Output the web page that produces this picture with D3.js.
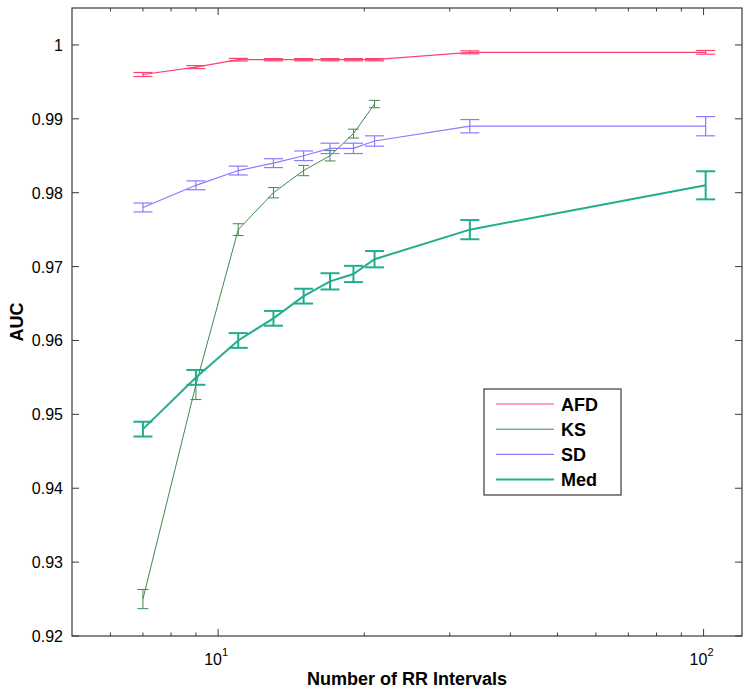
<!DOCTYPE html>
<meta charset="utf-8">
<script src="https://d3js.org/d3.v7.min.js"></script>
<style>
  body { margin: 0; background: #fff; }
  text { font-family: "Liberation Sans", Arial, Helvetica, sans-serif; }
</style>
<body>
<div id="auc_chart"></div>
<script>

// number of RR intervals (x positions)
var nRR = [7, 9, 11, 13, 15, 17, 19, 21, 33, 101];
var nRR_KS = [7, 9, 11, 13, 15, 17, 19, 21];

// AUC means and error half-widths
var afd = [0.996, 0.997, 0.998, 0.998, 0.998, 0.998, 0.998, 0.998, 0.999, 0.999];
var afdErr = [0.00027, 0.0002, 0.00018, 0.00015, 0.00015, 0.00015, 0.00015, 0.00015, 0.0002, 0.00025];

var ks = [0.925, 0.954, 0.975, 0.980, 0.983, 0.985, 0.988, 0.992];
var ksErr = [0.0013, 0.002, 0.0008, 0.0007, 0.0007, 0.0007, 0.0006, 0.0005];

var sd = [0.978, 0.981, 0.983, 0.984, 0.985, 0.986, 0.986, 0.987, 0.989, 0.989];
var sdErr = [0.0006, 0.0006, 0.0006, 0.0006, 0.00065, 0.0007, 0.0007, 0.0007, 0.0009, 0.0013];

var med = [0.948, 0.955, 0.960, 0.963, 0.966, 0.968, 0.969, 0.971, 0.975, 0.981];
var medErr = [0.001, 0.001, 0.001, 0.001, 0.001, 0.0011, 0.0011, 0.0011, 0.0013, 0.0019];

var yTicks = [0.92, 0.93, 0.94, 0.95, 0.96, 0.97, 0.98, 0.99, 1];
var xMajor = [10, 100];
var xMinor = [6, 7, 8, 9, 20, 30, 40, 50, 60, 70, 80, 90];

var series = [
  {name: "AFD", x: nRR, y: afd, e: afdErr, color: "#ff4270", w: 1.2, cap: 9.5},
  {name: "KS", x: nRR_KS, y: ks, e: ksErr, color: "#3f8a4f", w: 1, cap: 5.5},
  {name: "SD", x: nRR, y: sd, e: sdErr, color: "#8a7bff", w: 1.2, cap: 9.5},
  {name: "Med", x: nRR, y: med, e: medErr, color: "#22ad8e", w: 2, cap: 9.5}
];

var margin = {top: 8, right: 9, bottom: 57, left: 72},
    width = 751 - margin.left - margin.right,
    height = 693 - margin.top - margin.bottom;

var svg = d3.select("#auc_chart")
  .append("svg")
    .attr("width", 751)
    .attr("height", 693)
  .append("g")
    .attr("transform", "translate(" + margin.left + "," + margin.top + ")");

var x = d3.scaleLog()
  .domain([5, 120])
  .range([0, width]);

var y = d3.scaleLinear()
  .domain([0.92, 1.005])
  .range([height, 0]);

var axisColor = "#3a3a3a";

// box
svg.append("rect")
  .attr("width", width)
  .attr("height", height)
  .attr("fill", "none")
  .attr("stroke", axisColor)
  .attr("stroke-width", 1.2);

// y ticks, inward on both sides
yTicks.forEach(function(t) {
  var yy = y(t);
  svg.append("line").attr("x1", 0).attr("x2", 7).attr("y1", yy).attr("y2", yy)
    .attr("stroke", axisColor);
  svg.append("line").attr("x1", width).attr("x2", width - 7).attr("y1", yy).attr("y2", yy)
    .attr("stroke", axisColor);
  svg.append("text")
    .attr("x", -9)
    .attr("y", yy + 6)
    .attr("text-anchor", "end")
    .attr("font-size", "16px")
    .text(t === 1 ? "1" : d3.format(".2f")(t));
});

// x ticks: majors and minors on bottom and top
xMajor.forEach(function(t) {
  var xx = x(t);
  svg.append("line").attr("x1", xx).attr("x2", xx).attr("y1", height).attr("y2", height - 7)
    .attr("stroke", axisColor);
  svg.append("line").attr("x1", xx).attr("x2", xx).attr("y1", 0).attr("y2", 7)
    .attr("stroke", axisColor);
  var lab = svg.append("text")
    .attr("x", xx - 2)
    .attr("y", height + 29)
    .attr("text-anchor", "middle")
    .attr("font-size", "16px");
  lab.append("tspan").text("10");
  lab.append("tspan")
    .attr("dy", -9)
    .attr("font-size", "11px")
    .text(String(Math.round(Math.log10(t))));
});

xMinor.forEach(function(t) {
  var xx = x(t);
  svg.append("line").attr("x1", xx).attr("x2", xx).attr("y1", height).attr("y2", height - 3.5)
    .attr("stroke", axisColor);
  svg.append("line").attr("x1", xx).attr("x2", xx).attr("y1", 0).attr("y2", 3.5)
    .attr("stroke", axisColor);
});

// axis labels
svg.append("text")
  .attr("x", width / 2)
  .attr("y", height + 49)
  .attr("text-anchor", "middle")
  .attr("font-size", "18px")
  .attr("font-weight", "bold")
  .text("Number of RR Intervals");

svg.append("text")
  .attr("transform", "translate(" + (23 - margin.left) + "," + (height / 2) + ") rotate(-90)")
  .attr("text-anchor", "middle")
  .attr("font-size", "18px")
  .attr("font-weight", "bold")
  .text("AUC");

// series: line + error bars
series.forEach(function(s) {
  var pts = s.x.map(function(v, i) { return {x: v, y: s.y[i], e: s.e[i]}; });
  var g = svg.append("g");

  g.append("path")
    .datum(pts)
    .attr("fill", "none")
    .attr("stroke", s.color)
    .attr("stroke-width", s.w)
    .attr("d", d3.line()
      .x(function(d) { return x(d.x); })
      .y(function(d) { return y(d.y); }));

  var bars = g.selectAll(".eb")
    .data(pts)
    .enter()
    .append("g");

  bars.append("line")
    .attr("x1", function(d) { return x(d.x); })
    .attr("x2", function(d) { return x(d.x); })
    .attr("y1", function(d) { return y(d.y - d.e); })
    .attr("y2", function(d) { return y(d.y + d.e); })
    .attr("stroke", s.color)
    .attr("stroke-width", s.w);

  [-1, 1].forEach(function(sign) {
    bars.append("line")
      .attr("x1", function(d) { return x(d.x) - s.cap; })
      .attr("x2", function(d) { return x(d.x) + s.cap; })
      .attr("y1", function(d) { return y(d.y + sign * d.e); })
      .attr("y2", function(d) { return y(d.y + sign * d.e); })
      .attr("stroke", s.color)
      .attr("stroke-width", s.w);
  });
});

// legend
var lg = svg.append("g")
  .attr("transform", "translate(" + (484 - margin.left) + "," + (389 - margin.top) + ")");

lg.append("rect")
  .attr("width", 137)
  .attr("height", 106)
  .attr("fill", "#fff")
  .attr("stroke", axisColor)
  .attr("stroke-width", 1.2);

series.forEach(function(s, i) {
  var yy = 15 + i * 25.2;
  lg.append("line")
    .attr("x1", 12).attr("x2", 70)
    .attr("y1", yy).attr("y2", yy)
    .attr("stroke", s.color)
    .attr("stroke-width", s.w);
  lg.append("text")
    .attr("x", 77)
    .attr("y", yy + 6.5)
    .attr("font-size", "18px")
    .attr("font-weight", "bold")
    .text(s.name);
});

</script>
</body>
